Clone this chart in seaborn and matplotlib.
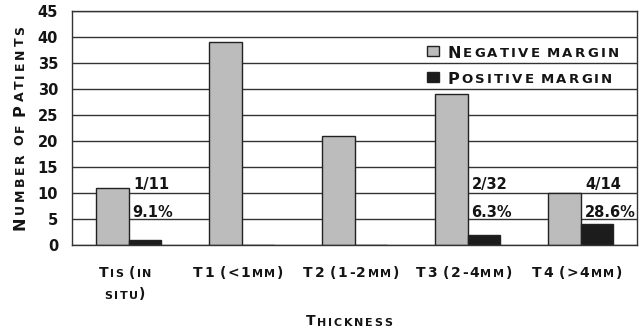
import matplotlib
matplotlib.use("Agg")
import matplotlib.pyplot as plt
from matplotlib.patches import Rectangle
from matplotlib.transforms import offset_copy
import seaborn as sns
import numpy as np
import pandas as pd

# values
stages = ["Tis (in situ)", "T1 (<1mm)", "T2 (1-2mm)", "T3 (2-4mm)", "T4 (>4mm)"]
tick_lines = [["Tis (in", "situ)"], ["T1 (<1mm)"], ["T2 (1-2mm)"], ["T3 (2-4mm)"], ["T4 (>4mm)"]]
negative = [11, 39, 21, 29, 10]
positive = [1, 0, 0, 2, 4]
fractions = ["1/11", "", "", "2/32", "4/14"]
percents = ["9.1%", "", "", "6.3%", "28.6%"]

GREY = "#bcbcbc"
BLACK = "#1c1c1c"
INK = "#141414"

df = pd.DataFrame({
    "stage": stages * 2,
    "count": negative + positive,
    "margin": ["Negative margin"] * 5 + ["Positive margin"] * 5,
})

sns.set_style("white")
fig = plt.figure(figsize=(6.44, 3.29), dpi=100)
ax = fig.add_axes([72 / 644, 1 - 245 / 329, 565 / 644, 234 / 329])

sns.barplot(data=df, x="stage", y="count", hue="margin", order=stages,
            palette=[GREY, BLACK], width=0.57, saturation=1,
            edgecolor="#222222", linewidth=1, legend=False, ax=ax)

ax.set_xlim(-0.5, 4.5)
ax.set_ylim(0, 45)
ax.set_yticks(range(0, 50, 5))
ax.set_xticks(np.arange(-0.5, 5, 1))
ax.set_xticklabels([])
ax.yaxis.grid(True, color="#333333", linewidth=1)
ax.set_axisbelow(True)
for sp in ax.spines.values():
    sp.set_color("#333333")
    sp.set_linewidth(1)
ax.tick_params(axis="x", length=5, width=1, color="#333333", direction="out")
ax.tick_params(axis="y", length=3, width=1, color="#333333", direction="out",
               pad=7, labelsize=10.5)
for lab in ax.get_yticklabels():
    lab.set_fontweight("bold")
    lab.set_color(INK)
ax.set_xlabel("")
ax.set_ylabel("")


def smallcaps(x, y, s, big, small, track=0.6, transform=None, ha="center", rot=0):
    # fake small caps: one text per letter, chained along the baseline
    pieces = []
    gap = 0.0
    prev_size = big
    for ch in s:
        if ch == " ":
            gap += 0.3 * big
            continue
        size = small if ch.islower() else big
        kw = dict(fontsize=size, fontweight="bold", color=INK, rotation=rot)
        if not pieces:
            t = ax.text(x, y, ch.upper(), transform=transform,
                        ha="left" if rot == 0 else "right", va="bottom", **kw)
        elif rot == 0:
            t = ax.annotate(ch.upper(), xy=(1, 0), xycoords=pieces[-1],
                            xytext=(track + gap, 0.236 * (prev_size - size)),
                            textcoords="offset points", ha="left", va="bottom",
                            annotation_clip=False, **kw)
        else:
            t = ax.annotate(ch.upper(), xy=(1, 1), xycoords=pieces[-1],
                            xytext=(0.236 * (size - prev_size), track + gap),
                            textcoords="offset points", ha="right", va="bottom",
                            annotation_clip=False, **kw)
        pieces.append(t)
        gap = 0.0
        prev_size = size
    return (pieces, transform, ha, rot)


groups = []
xt = ax.get_xaxis_transform()
for i, lines in enumerate(tick_lines):
    for j, line in enumerate(lines):
        groups.append(smallcaps(i - 0.03, -0.150 - 0.088 * j, line, 10, 8, track=1.1,
                                transform=xt))

groups.append(smallcaps(0.542, 0.002, "Thickness", 10, 8, track=1.3,
                        transform=fig.transFigure))
groups.append(smallcaps(0.0427, 0.611, "Number of Patients", 11.5, 9, track=2.0,
                        transform=fig.transFigure, rot=90))

# legend drawn by hand
ax.add_patch(Rectangle((0.629, 0.808), 0.020, 0.044, transform=ax.transAxes,
                       facecolor=GREY, edgecolor="#222222", lw=1, clip_on=False))
ax.add_patch(Rectangle((0.629, 0.696), 0.020, 0.044, transform=ax.transAxes,
                       facecolor=BLACK, edgecolor="#222222", lw=1, clip_on=False))
groups.append(smallcaps(0.664, 0.788, "Negative margin", 11.5, 9.5, track=1.6,
                        transform=ax.transAxes, ha="left"))
groups.append(smallcaps(0.664, 0.675, "Positive margin", 11.5, 9.5, track=1.6,
                        transform=ax.transAxes, ha="left"))

# n/N and percentage labels
for i, (fr, pc) in enumerate(zip(fractions, percents)):
    if fr:
        ax.text(i + 0.04, 11.7, fr, fontsize=10.5, fontweight="bold", color=INK,
                va="center", ha="left")
    if pc:
        ax.text(i + 0.035, 6.3, pc, fontsize=10.5, fontweight="bold", color=INK,
                va="center", ha="left")

# center the hand-built labels
fig.canvas.draw()
renderer = fig.canvas.get_renderer()
for pieces, tr, ha, rot in groups:
    if ha != "center":
        continue
    boxes = [p.get_window_extent(renderer) for p in pieces]
    if rot == 0:
        w = max(b.x1 for b in boxes) - min(b.x0 for b in boxes)
        pieces[0].set_transform(offset_copy(tr, fig=fig, x=-w / 2, y=0, units="dots"))
    else:
        h = max(b.y1 for b in boxes) - min(b.y0 for b in boxes)
        pieces[0].set_transform(offset_copy(tr, fig=fig, x=0, y=-h / 2, units="dots"))

fig.savefig("out.png", dpi=100)
